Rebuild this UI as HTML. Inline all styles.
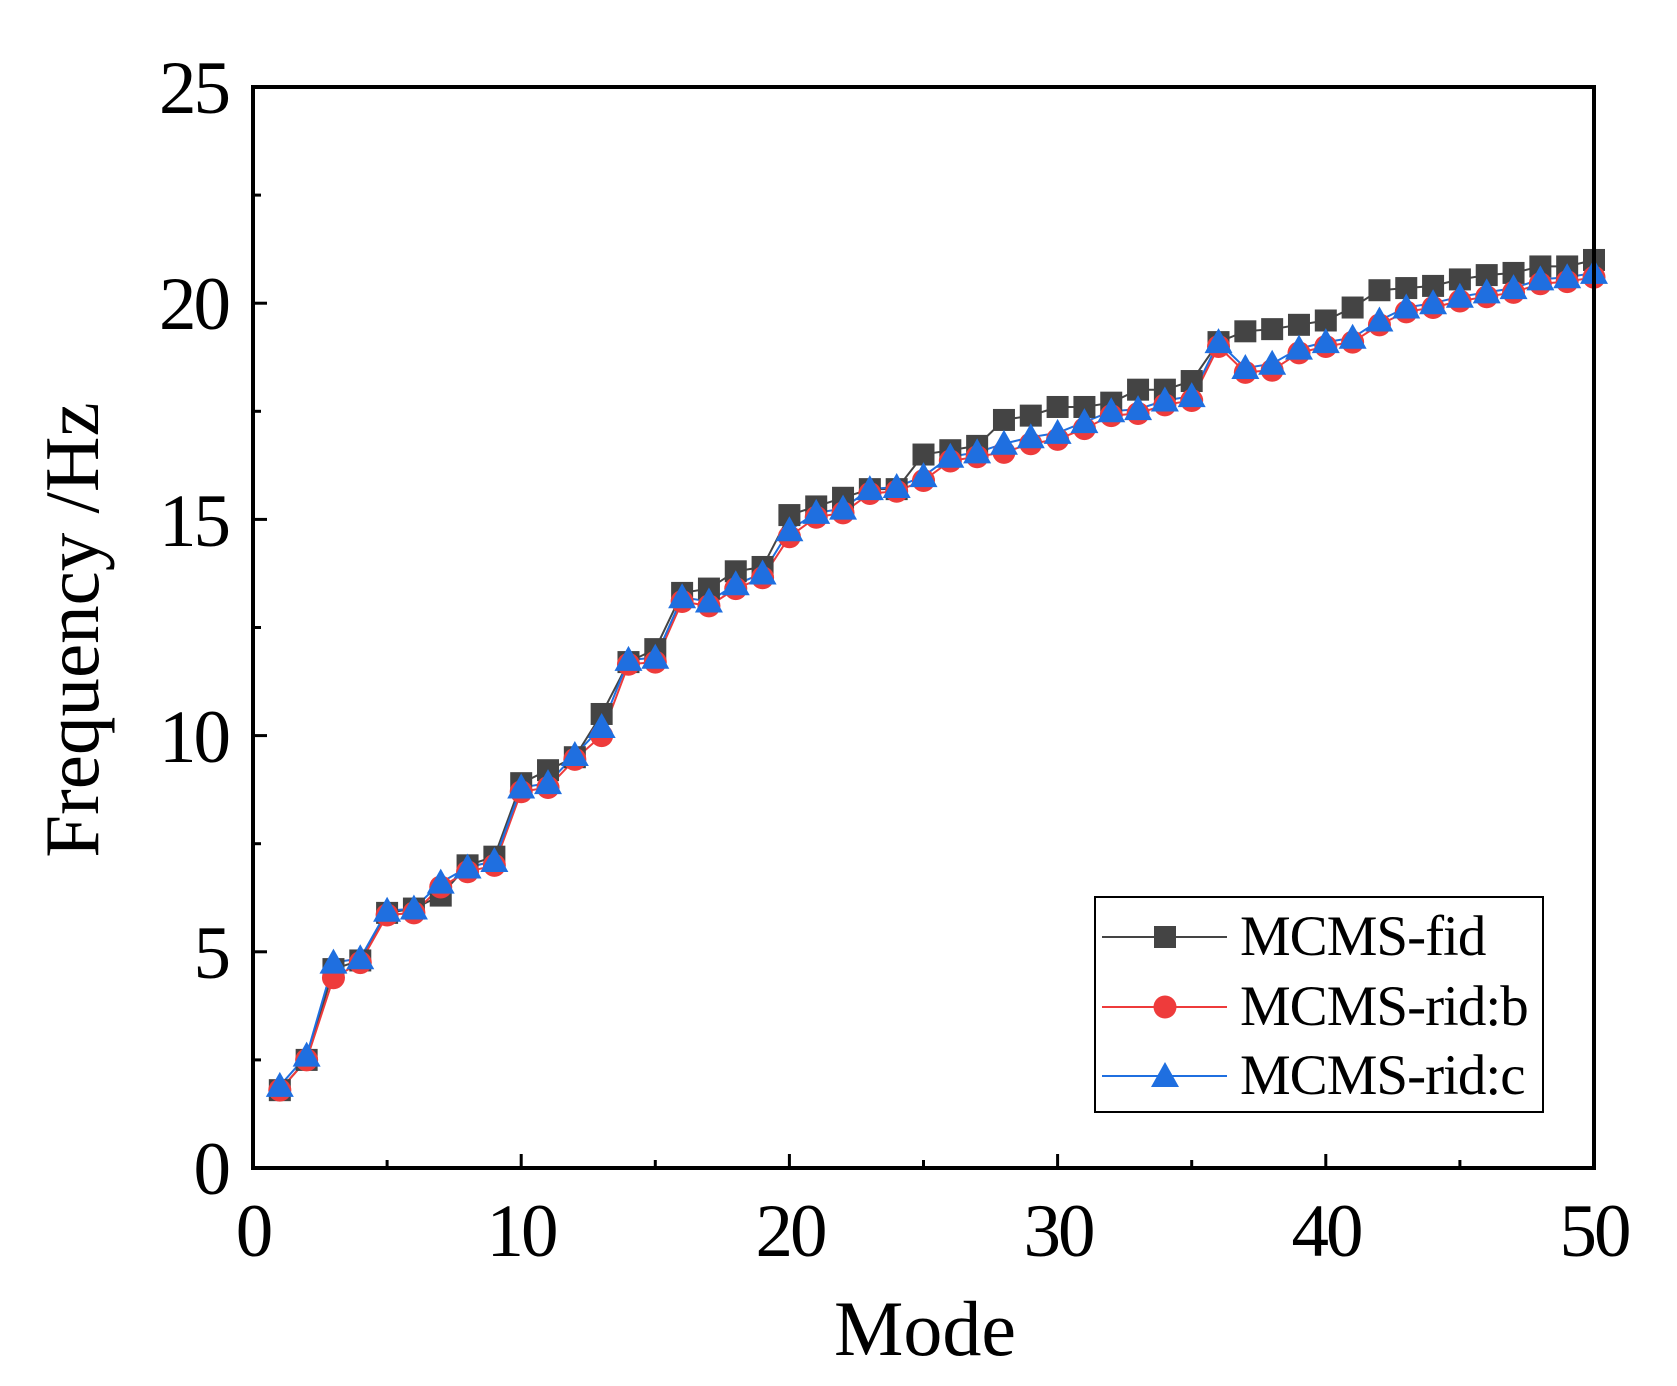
<!DOCTYPE html>
<html><head><meta charset="utf-8"><style>
html,body{margin:0;padding:0;background:#fff;}
svg{display:block;font-family:"Liberation Serif",serif;}
</style></head><body>
<svg id="s" width="1677" height="1386" viewBox="0 0 1677 1386" xmlns="http://www.w3.org/2000/svg">
<rect width="1677" height="1386" fill="#fff"/>
<g id="series"></g>
<rect x="253" y="87" width="1341" height="1081" fill="none" stroke="#000" stroke-width="4"/>
<g id="ticks" stroke="#000" stroke-width="3"></g>
<g font-size="75" fill="#000" text-anchor="end" letter-spacing="-3">
<text x="228" y="1194">0</text>
<text x="228" y="978">5</text>
<text x="228" y="762">10</text>
<text x="228" y="546">15</text>
<text x="228" y="329">20</text>
<text x="228" y="113">25</text>
</g>
<g font-size="75" fill="#000" text-anchor="middle" letter-spacing="-3">
<text x="253" y="1256">0</text>
<text x="521" y="1256">10</text>
<text x="790" y="1256">20</text>
<text x="1058" y="1256">30</text>
<text x="1326" y="1256">40</text>
<text x="1594" y="1256">50</text>
</g>
<text x="925" y="1355" font-size="78" text-anchor="middle">Mode</text>
<text transform="translate(98,630) rotate(-90)" font-size="77" text-anchor="middle">Frequency /Hz</text>
<rect x="1095" y="897" width="448" height="215" fill="#fff" stroke="#000" stroke-width="2"/>
<g id="leg"></g>
<g font-size="57" fill="#000" letter-spacing="-1">
<text x="1240" y="955">MCMS-fid</text>
<text x="1240" y="1025">MCMS-rid:b</text>
<text x="1240" y="1094">MCMS-rid:c</text>
</g>
</svg>
<script>
var fid=[1.8,2.5,4.6,4.8,5.9,6.0,6.3,7.0,7.2,8.9,9.2,9.5,10.5,11.7,12.0,13.3,13.4,13.8,13.9,15.1,15.3,15.5,15.7,15.7,16.5,16.6,16.7,17.3,17.4,17.6,17.6,17.7,18.0,18.0,18.2,19.1,19.35,19.4,19.5,19.6,19.9,20.3,20.35,20.4,20.55,20.65,20.7,20.85,20.85,21.0];
var rb=[1.8,2.5,4.4,4.75,5.85,5.9,6.5,6.85,7.0,8.7,8.8,9.45,10.0,11.65,11.7,13.1,13.0,13.4,13.65,14.6,15.05,15.15,15.6,15.65,15.9,16.35,16.45,16.55,16.75,16.85,17.1,17.4,17.45,17.65,17.75,19.0,18.4,18.45,18.85,19.0,19.1,19.5,19.8,19.9,20.05,20.15,20.25,20.45,20.5,20.6];
var rc=rb.map(function(v,i){return v+0.1;});
rc[2]=4.75;rc[6]=6.6;rc[12]=10.2;rc[19]=14.75;rc[27]=16.75;rc[28]=16.9;rc[29]=17.0;rc[30]=17.25;rc[36]=18.5;rc[37]=18.6;
var NS="http://www.w3.org/2000/svg";
function X(m){return 253+m*26.82;} function Y(v){return 1168-v*43.24;}
function el(p,t,a){var e=document.createElementNS(NS,t);for(var k in a)e.setAttribute(k,a[k]);p.appendChild(e);return e;}
var g=document.getElementById('series');
function line(d,c){var pts=d.map(function(v,i){return X(i+1).toFixed(1)+','+Y(v).toFixed(1);}).join(' ');el(g,'polyline',{points:pts,fill:'none',stroke:c,'stroke-width':2});}
function sq(p,x,y){el(p,'rect',{x:x-11,y:y-11,width:22,height:22,fill:'#444'});}
function ci(p,x,y){el(p,'circle',{cx:x,cy:y,r:11.5,fill:'#ee3b3b'});}
function tr(p,x,y){el(p,'polygon',{points:(x)+','+(y-14)+' '+(x-14)+','+(y+11)+' '+(x+14)+','+(y+11),fill:'#1f6fe0'});}
line(fid,'#444');line(rb,'#ee3b3b');line(rc,'#1f6fe0');
fid.forEach(function(v,i){sq(g,X(i+1),Y(v));});
rb.forEach(function(v,i){ci(g,X(i+1),Y(v));});
rc.forEach(function(v,i){tr(g,X(i+1),Y(v));});
var t=document.getElementById('ticks');
for(var m=0;m<=50;m+=5){var L=(m%10==0)?14:8;el(t,'line',{x1:X(m),y1:1168,x2:X(m),y2:1168-L});}
for(var v=0;v<=25;v+=2.5){var L=(v%5==0)?14:8;el(t,'line',{x1:253,y1:Y(v),x2:253+L,y2:Y(v)});}
var lg=document.getElementById('leg');
[['#444',sq,937],['#ee3b3b',ci,1007],['#1f6fe0',tr,1076]].forEach(function(a){el(lg,'line',{x1:1102,y1:a[2],x2:1227,y2:a[2],stroke:a[0],'stroke-width':2});a[1](lg,1165,a[2]);});
</script>
</body></html>
